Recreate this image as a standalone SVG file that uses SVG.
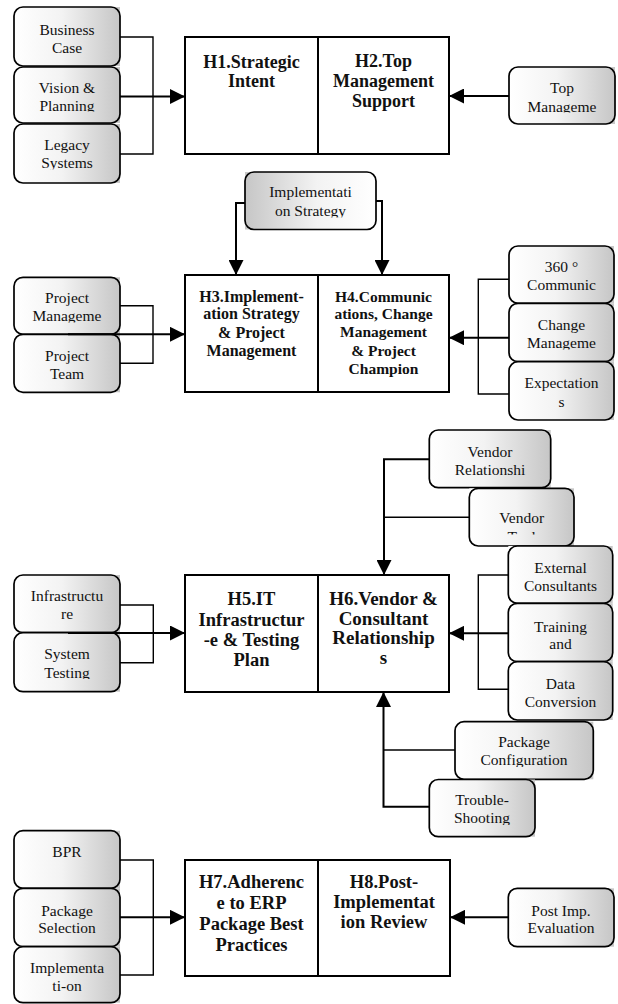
<svg xmlns="http://www.w3.org/2000/svg" width="618" height="1004" viewBox="0 0 618 1004">
<style>
.bg{stroke:none}
.box{stroke:#000;stroke-width:1.7}
.hb{fill:#fff;stroke:#000;stroke-width:2}
.t{font-family:'Liberation Serif','DejaVu Serif',serif;font-size:15.5px;fill:#111;text-anchor:middle}
.h{font-family:'Liberation Serif','DejaVu Serif',serif;font-weight:bold;fill:#111;text-anchor:middle}
.c{fill:none;stroke:#000;stroke-width:1.4}
.a{fill:none;stroke:#000;stroke-width:2;marker-end:url(#arr)}
</style>
<defs>
<linearGradient id="gL" x1="0" y1="0" x2="1" y2="0">
<stop offset="0" stop-color="#ffffff"/><stop offset="0.45" stop-color="#f3f3f3"/><stop offset="1" stop-color="#c6c6c6"/>
</linearGradient>
<linearGradient id="gR" x1="0" y1="0" x2="1" y2="0">
<stop offset="0" stop-color="#c6c6c6"/><stop offset="0.55" stop-color="#f3f3f3"/><stop offset="1" stop-color="#ffffff"/>
</linearGradient>
<marker id="arr" markerUnits="userSpaceOnUse" markerWidth="15" markerHeight="15" viewBox="0 0 15 15" refX="15" refY="7.5" orient="auto">
<path d="M0,0 L15,7.5 L0,15 z" fill="#000"/>
</marker>
<clipPath id="cpVision"><rect x="14" y="67" width="106" height="44.5"/></clipPath>
<clipPath id="cpLegacy"><rect x="14" y="124" width="106" height="45.5"/></clipPath>
<clipPath id="cpTop"><rect x="509" y="67" width="106" height="45.5"/></clipPath>
<clipPath id="cpImpl"><rect x="245" y="172" width="131" height="45.5"/></clipPath>
<clipPath id="cpPM"><rect x="14" y="277" width="106" height="45.5"/></clipPath>
<clipPath id="cpCM"><rect x="509" y="303" width="105" height="46.5"/></clipPath>
<clipPath id="cpST"><rect x="14" y="633" width="106" height="46"/></clipPath>
<clipPath id="cpVT"><rect x="469" y="488" width="105" height="46.5"/></clipPath>
<clipPath id="cpPC"><rect x="455" y="722" width="138" height="45"/></clipPath>
<clipPath id="cpTS"><rect x="429" y="780" width="106" height="45"/></clipPath>
</defs>
<rect width="618" height="1004" fill="#fff"/>

<!-- Section 1 -->
<g id="n-business-case">
<rect class="bg" x="14" y="7" width="106" height="59" fill="url(#gL)"/>
<rect class="box" x="14" y="7" width="106" height="59" rx="9" fill="url(#gL)"/>
<text class="t" x="67" y="35">Business</text><text class="t" x="67" y="52.5">Case</text>
</g>
<g id="n-vision">
<rect class="bg" x="14" y="67" width="106" height="56" fill="url(#gL)"/>
<rect class="box" x="14" y="67" width="106" height="56" rx="9" fill="url(#gL)"/>
<g clip-path="url(#cpVision)"><text class="t" x="67" y="93.3">Vision &amp;</text><text class="t" x="67" y="110.5">Planning</text></g>
</g>
<g id="n-legacy">
<rect class="bg" x="14" y="124" width="106" height="59" fill="url(#gL)"/>
<rect class="box" x="14" y="124" width="106" height="59" rx="9" fill="url(#gL)"/>
<g clip-path="url(#cpLegacy)"><text class="t" x="67" y="150">Legacy</text><text class="t" x="67" y="167.7">Systems</text></g>
</g>
<g id="h1">
<rect class="hb" x="185" y="37" width="133" height="117"/>
<text class="h" font-size="18" x="251.5" y="67.5">H1.Strategic</text><text class="h" font-size="18" x="251.5" y="87.3">Intent</text>
</g>
<g id="h2">
<rect class="hb" x="318" y="37" width="131" height="117"/>
<text class="h" font-size="18" x="383.5" y="66.7">H2.Top</text><text class="h" font-size="18" x="383.5" y="87">Management</text><text class="h" font-size="18" x="383.5" y="107.3">Support</text>
</g>
<g id="n-top-mgmt">
<rect class="bg" x="509" y="67" width="106" height="57" fill="url(#gL)"/>
<rect class="box" x="509" y="67" width="106" height="57" rx="9" fill="url(#gL)"/>
<g clip-path="url(#cpTop)"><text class="t" x="562" y="93.3">Top</text><text class="t" x="562" y="111.7">Manageme</text></g>
</g>

<!-- Section 2 -->
<g id="n-impl-strategy">
<rect class="bg" x="245" y="172" width="131" height="57.5" fill="url(#gR)"/>
<rect class="box" x="245" y="172" width="131" height="57.5" rx="9" fill="url(#gR)"/>
<g clip-path="url(#cpImpl)"><text class="t" x="310.5" y="196.7">Implementati</text><text class="t" x="310.5" y="215.7">on Strategy</text></g>
</g>
<g id="h3">
<rect class="hb" x="185" y="275" width="133" height="117"/>
<text class="h" font-size="16" x="251.5" y="301.7">H3.Implement-</text><text class="h" font-size="16" x="251.5" y="319.3">ation Strategy</text><text class="h" font-size="16" x="251.5" y="337.7">&amp; Project</text><text class="h" font-size="16" x="251.5" y="355.7">Management</text>
</g>
<g id="h4">
<rect class="hb" x="318" y="275" width="131" height="117"/>
<text class="h" font-size="15.5" x="383.5" y="301.7">H4.Communic</text><text class="h" font-size="15.5" x="383.5" y="319">ations, Change</text><text class="h" font-size="15.5" x="383.5" y="337">Management</text><text class="h" font-size="15.5" x="383.5" y="355.7">&amp; Project</text><text class="h" font-size="15.5" x="383.5" y="374.3">Champion</text>
</g>
<g id="n-project-mgmt">
<rect class="bg" x="14" y="277.3" width="106" height="57" fill="url(#gL)"/>
<rect class="box" x="14" y="277.3" width="106" height="57" rx="9" fill="url(#gL)"/>
<g clip-path="url(#cpPM)"><text class="t" x="67" y="303.3">Project</text><text class="t" x="67" y="321">Manageme</text></g>
</g>
<g id="n-project-team">
<rect class="bg" x="14" y="334.3" width="106" height="58" fill="url(#gL)"/>
<rect class="box" x="14" y="334.3" width="106" height="58" rx="9" fill="url(#gL)"/>
<text class="t" x="67" y="360.7">Project</text><text class="t" x="67" y="379">Team</text>
</g>
<g id="n-360">
<rect class="bg" x="509" y="246" width="105" height="57.3" fill="url(#gL)"/>
<rect class="box" x="509" y="246" width="105" height="57.3" rx="9" fill="url(#gL)"/>
<text class="t" x="561.5" y="271.7">360 °</text><text class="t" x="561.5" y="290">Communic</text>
</g>
<g id="n-change-mgmt">
<rect class="bg" x="509" y="303.3" width="105" height="58.4" fill="url(#gL)"/>
<rect class="box" x="509" y="303.3" width="105" height="58.4" rx="9" fill="url(#gL)"/>
<g clip-path="url(#cpCM)"><text class="t" x="561.5" y="330">Change</text><text class="t" x="561.5" y="348.3">Manageme</text></g>
</g>
<g id="n-expectations">
<rect class="bg" x="509" y="361.7" width="105" height="58.3" fill="url(#gL)"/>
<rect class="box" x="509" y="361.7" width="105" height="58.3" rx="9" fill="url(#gL)"/>
<text class="t" x="561.5" y="388.3">Expectation</text><text class="t" x="561.5" y="406.7">s</text>
</g>

<!-- Section 3 -->
<g id="n-vendor-rel">
<rect class="bg" x="429.3" y="430" width="121.4" height="57.7" fill="url(#gL)"/>
<rect class="box" x="429.3" y="430" width="121.4" height="57.7" rx="9" fill="url(#gL)"/>
<text class="t" x="490" y="456.7">Vendor</text><text class="t" x="490" y="475">Relationshi</text>
</g>
<g id="n-vendor-tool">
<rect class="bg" x="469.3" y="488.3" width="104.7" height="57.7" fill="url(#gL)"/>
<rect class="box" x="469.3" y="488.3" width="104.7" height="57.7" rx="9" fill="url(#gL)"/>
<g clip-path="url(#cpVT)"><text class="t" x="521.7" y="523.3">Vendor</text><text class="t" x="521.7" y="541.6">Tool</text></g>
</g>
<g id="h5">
<rect class="hb" x="185" y="575" width="133" height="117"/>
<text class="h" font-size="18.5" x="251.5" y="605">H5.IT</text><text class="h" font-size="18.5" x="251.5" y="625.5">Infrastructur</text><text class="h" font-size="18.5" x="251.5" y="646.3">-e &amp; Testing</text><text class="h" font-size="18.5" x="251.5" y="666.3">Plan</text>
</g>
<g id="h6">
<rect class="hb" x="318" y="575" width="131" height="117"/>
<text class="h" font-size="19" x="383.5" y="605">H6.Vendor &amp;</text><text class="h" font-size="19" x="383.5" y="624.5">Consultant</text><text class="h" font-size="19" x="383.5" y="644">Relationship</text><text class="h" font-size="19" x="383.5" y="663.5">s</text>
</g>
<g id="n-infrastructure">
<rect class="bg" x="14" y="575" width="106" height="57.7" fill="url(#gL)"/>
<rect class="box" x="14" y="575" width="106" height="57.7" rx="9" fill="url(#gL)"/>
<text class="t" x="67" y="601">Infrastructu</text><text class="t" x="67" y="619.3">re</text>
</g>
<g id="n-system-testing">
<rect class="bg" x="14" y="632.7" width="106" height="59" fill="url(#gL)"/>
<rect class="box" x="14" y="632.7" width="106" height="59" rx="9" fill="url(#gL)"/>
<g clip-path="url(#cpST)"><text class="t" x="67" y="659.3">System</text><text class="t" x="67" y="677.7">Testing</text></g>
</g>
<g id="n-ext-consultants">
<rect class="bg" x="508.3" y="546" width="104.4" height="57.3" fill="url(#gL)"/>
<rect class="box" x="508.3" y="546" width="104.4" height="57.3" rx="9" fill="url(#gL)"/>
<text class="t" x="560.5" y="573.3">External</text><text class="t" x="560.5" y="590.7">Consultants</text>
</g>
<g id="n-training">
<rect class="bg" x="508.3" y="603.3" width="104.4" height="58.4" fill="url(#gL)"/>
<rect class="box" x="508.3" y="603.3" width="104.4" height="58.4" rx="9" fill="url(#gL)"/>
<text class="t" x="560.5" y="631.7">Training</text><text class="t" x="560.5" y="649.3">and</text>
</g>
<g id="n-data-conversion">
<rect class="bg" x="508.3" y="661.7" width="104.4" height="58.3" fill="url(#gL)"/>
<rect class="box" x="508.3" y="661.7" width="104.4" height="58.3" rx="9" fill="url(#gL)"/>
<text class="t" x="560.5" y="689.3">Data</text><text class="t" x="560.5" y="707.3">Conversion</text>
</g>
<g id="n-pkg-config">
<rect class="bg" x="455" y="721.7" width="138.3" height="57.6" fill="url(#gL)"/>
<rect class="box" x="455" y="721.7" width="138.3" height="57.6" rx="9" fill="url(#gL)"/>
<g clip-path="url(#cpPC)"><text class="t" x="524" y="746.7">Package</text><text class="t" x="524" y="765">Configuration</text></g>
</g>
<g id="n-trouble">
<rect class="bg" x="429.3" y="779.5" width="105.7" height="57.2" fill="url(#gL)"/>
<rect class="box" x="429.3" y="779.5" width="105.7" height="57.2" rx="9" fill="url(#gL)"/>
<g clip-path="url(#cpTS)"><text class="t" x="482" y="805">Trouble-</text><text class="t" x="482" y="823.3">Shooting</text></g>
</g>

<!-- Section 4 -->
<g id="n-bpr">
<rect class="bg" x="14" y="830.7" width="106" height="57.6" fill="url(#gL)"/>
<rect class="box" x="14" y="830.7" width="106" height="57.6" rx="9" fill="url(#gL)"/>
<text class="t" x="67" y="857.3">BPR</text>
</g>
<g id="n-pkg-selection">
<rect class="bg" x="14" y="888.3" width="106" height="58.4" fill="url(#gL)"/>
<rect class="box" x="14" y="888.3" width="106" height="58.4" rx="9" fill="url(#gL)"/>
<text class="t" x="67" y="916">Package</text><text class="t" x="67" y="933.3">Selection</text>
</g>
<g id="n-implementation">
<rect class="bg" x="14" y="946.7" width="106" height="56" fill="url(#gL)"/>
<rect class="box" x="14" y="946.7" width="106" height="56" rx="9" fill="url(#gL)"/>
<text class="t" x="67" y="972.7">Implementa</text><text class="t" x="67" y="990.7">ti-on</text>
</g>
<g id="h7">
<rect class="hb" x="185" y="860" width="133" height="116"/>
<text class="h" font-size="18.5" x="251.5" y="887.7">H7.Adherenc</text><text class="h" font-size="18.5" x="251.5" y="908.5">e to ERP</text><text class="h" font-size="18.5" x="251.5" y="929.7">Package Best</text><text class="h" font-size="18.5" x="251.5" y="950.7">Practices</text>
</g>
<g id="h8">
<rect class="hb" x="318" y="860" width="132" height="116"/>
<text class="h" font-size="18.5" x="384" y="887.7">H8.Post-</text><text class="h" font-size="18.5" x="384" y="908.3">Implementat</text><text class="h" font-size="18.5" x="384" y="928.3">ion Review</text>
</g>
<g id="n-post-imp">
<rect class="bg" x="508.3" y="888.3" width="105.7" height="58.4" fill="url(#gL)"/>
<rect class="box" x="508.3" y="888.3" width="105.7" height="58.4" rx="9" fill="url(#gL)"/>
<text class="t" x="561" y="916">Post Imp.</text><text class="t" x="561" y="933.3">Evaluation</text>
</g>

<g id="connectors">
<path class="c" d="M120,37 H153 V154 H120"/>
<path class="a" d="M120,96.5 H185"/>
<path class="a" d="M509,96 H449"/>
<path class="a" d="M245,203 H236 V275"/>
<path class="a" d="M376,201 H382 V275"/>
<path class="c" d="M120,305.7 H153 V363.3 H120"/>
<path class="a" d="M68,334.3 H185"/>
<path class="c" d="M509,279.3 H478.3 V394 H509"/>
<path class="a" d="M509,337.7 H449"/>
<path class="c" d="M469.3,517.3 H384"/>
<path class="a" d="M429.3,459.3 H384 V575"/>
<path class="c" d="M120,605 H153.3 V662.7 H120"/>
<path class="a" d="M68,633 H185"/>
<path class="c" d="M508.3,575 H478.3 V689.3 H508.3"/>
<path class="a" d="M508.3,633.3 H449"/>
<path class="c" d="M455,750 H383.5"/>
<path class="a" d="M429.3,806.7 H383.5 V692"/>
<path class="c" d="M120,860 H153.3 V975 H120"/>
<path class="a" d="M120,917.3 H185"/>
<path class="a" d="M508.3,917.3 H450"/>
</g>
</svg>
